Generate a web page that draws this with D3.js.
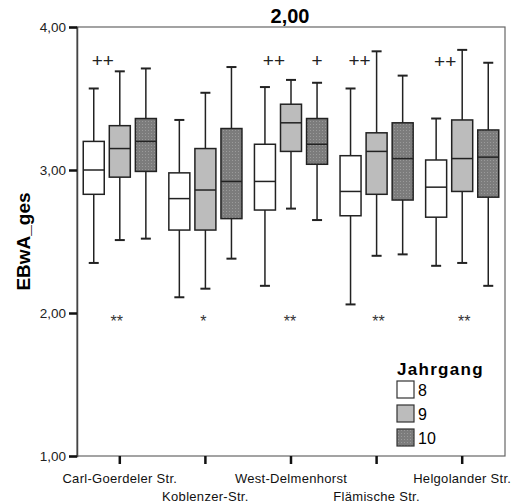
<!DOCTYPE html>
<html>
<head>
<meta charset="utf-8">
<script src="https://cdn.jsdelivr.net/npm/d3@7"></script>
<style>
  body { margin: 0; background: #fff; }
  svg text { font-family: Arial, "Liberation Sans", sans-serif; }
</style>
</head>
<body>
<div id="chart"></div>
<script>
// Schulen (x-Kategorien) und Jahrgänge
var schools = ["Carl-Goerdeler Str.", "Koblenzer-Str.", "West-Delmenhorst", "Flämische Str.", "Helgolander Str."];
var grades = ["8", "9", "10"];
var yTicks = [1, 2, 3, 4];
var title = "2,00";

// je Schule: [min, q1, median, q3, max]
var stats8 = [
  [2.35, 2.83, 3.00, 3.20, 3.57],
  [2.11, 2.58, 2.80, 2.98, 3.35],
  [2.19, 2.72, 2.92, 3.18, 3.58],
  [2.06, 2.68, 2.85, 3.10, 3.57],
  [2.33, 2.67, 2.88, 3.07, 3.36]
];
var stats9 = [
  [2.51, 2.95, 3.15, 3.31, 3.69],
  [2.17, 2.58, 2.86, 3.15, 3.54],
  [2.73, 3.13, 3.33, 3.46, 3.63],
  [2.40, 2.83, 3.13, 3.26, 3.83],
  [2.35, 2.85, 3.08, 3.35, 3.84]
];
var stats10 = [
  [2.52, 2.99, 3.20, 3.36, 3.71],
  [2.38, 2.66, 2.92, 3.29, 3.72],
  [2.65, 3.04, 3.18, 3.36, 3.61],
  [2.41, 2.79, 3.08, 3.33, 3.66],
  [2.19, 2.81, 3.09, 3.28, 3.75]
];

// Signifikanz-Markierungen
var plusMarks = [
  {school: 0, grade: "8", text: "++", y: 3.72},
  {school: 2, grade: "8", text: "++", y: 3.72},
  {school: 2, grade: "10", text: "+", y: 3.72},
  {school: 3, grade: "8", text: "++", y: 3.72},
  {school: 4, grade: "8", text: "++", y: 3.71}
];
var starMarks = ["**", "*", "**", "**", "**"];

var W = 511, H = 503,
    margin = {top: 27, right: 6, bottom: 47, left: 77};

var svg = d3.select("#chart").append("svg")
    .attr("width", W).attr("height", H);

var defs = svg.append("defs");
var pat = defs.append("pattern")
    .attr("id", "dots").attr("width", 3).attr("height", 3)
    .attr("patternUnits", "userSpaceOnUse");
pat.append("rect").attr("width", 3).attr("height", 3).attr("fill", "#7c7c7c");
pat.append("rect").attr("x", 1).attr("y", 1).attr("width", 1).attr("height", 1).attr("fill", "#9a9a9a");

var fills = {"8": "#ffffff", "9": "#bcbcbc", "10": "url(#dots)"};

var x = d3.scaleBand().domain(schools)
    .range([margin.left, W - margin.right]);
var xg = d3.scaleBand().domain(grades)
    .range([-37, 37]).paddingInner(0.16);
var y = d3.scaleLinear().domain([1, 4])
    .range([H - margin.bottom, margin.top]);

// Rahmen
svg.append("rect")
    .attr("x", margin.left).attr("y", margin.top)
    .attr("width", W - margin.right - margin.left)
    .attr("height", H - margin.bottom - margin.top)
    .attr("fill", "none").attr("stroke", "#666").attr("stroke-width", 1.2);

// y-Achse
var yAxis = svg.append("g")
    .attr("transform", "translate(" + margin.left + ",0)")
    .call(d3.axisLeft(y).tickValues(yTicks).tickSize(8).tickPadding(3)
      .tickFormat(function (d) { return d3.format(".2f")(d).replace(".", ","); }));
yAxis.select(".domain").attr("stroke", "#444").attr("stroke-width", 1.5);
yAxis.selectAll(".tick line").attr("stroke", "#111").attr("stroke-width", 2.5);
yAxis.selectAll(".tick text").attr("font-size", 13.5).attr("fill", "#222");

// x-Achse
var xAxis = svg.append("g")
    .attr("transform", "translate(0," + (H - margin.bottom) + ")")
    .call(d3.axisBottom(x).tickSize(8).tickPadding(6));
xAxis.select(".domain").remove();
xAxis.selectAll(".tick line").attr("stroke", "#111").attr("stroke-width", 2.5);
xAxis.selectAll(".tick text")
    .attr("font-size", 13).attr("fill", "#111").attr("letter-spacing", 0.3)
    .attr("y", function (d, i) { return i % 2 ? 45 : 27; })
    .attr("dy", 0);

// Boxplots
var series = [stats8, stats9, stats10];
var boxW = 21;
var starShift = [-3, -2, -1, 2, 2];
schools.forEach(function (s, si) {
  var cx0 = x(s) + x.bandwidth() / 2;
  grades.forEach(function (g, gi) {
    var v = series[gi][si];
    var cx = cx0 + xg(g) + xg.bandwidth() / 2;
    var grp = svg.append("g").attr("stroke", "#222").attr("stroke-width", 1.5);
    grp.append("line").attr("x1", cx).attr("x2", cx).attr("y1", y(v[0])).attr("y2", y(v[4]));
    [v[0], v[4]].forEach(function (w) {
      grp.append("line").attr("x1", cx - 5).attr("x2", cx + 5).attr("y1", y(w)).attr("y2", y(w))
          .attr("stroke-width", 2);
    });
    grp.append("rect").attr("x", cx - boxW / 2).attr("width", boxW)
        .attr("y", y(v[3])).attr("height", y(v[1]) - y(v[3]))
        .attr("fill", fills[g]);
    grp.append("line").attr("x1", cx - boxW / 2).attr("x2", cx + boxW / 2)
        .attr("y1", y(v[2])).attr("y2", y(v[2]));
  });
  // Sterne
  svg.append("text")
      .attr("x", cx0 + starShift[si]).attr("y", y(1.9))
      .attr("text-anchor", "middle").attr("font-size", 16).attr("fill", "#333")
      .text(starMarks[si]);
});

plusMarks.forEach(function (m) {
  var cx = x(schools[m.school]) + x.bandwidth() / 2 + xg(m.grade) + xg.bandwidth() / 2 +
      (m.text.length > 1 ? 9 : 0);
  svg.append("text")
      .attr("x", cx).attr("y", y(m.y))
      .attr("text-anchor", "middle").attr("font-size", 19).attr("fill", "#222")
      .text(m.text);
});

// Titel
svg.append("text")
    .attr("x", 290).attr("y", 23)
    .attr("text-anchor", "middle").attr("font-size", 20).attr("font-weight", "bold")
    .text(title);

// y-Beschriftung
svg.append("text")
    .attr("transform", "translate(30," + ((margin.top + H - margin.bottom) / 2) + ") rotate(-90)")
    .attr("text-anchor", "middle").attr("font-size", 19).attr("font-weight", "bold")
    .text("EBwA_ges");

// Legende
var leg = svg.append("g").attr("transform", "translate(397,375)");
leg.append("text").attr("x", 0).attr("y", 0)
    .attr("font-size", 17).attr("font-weight", "bold").attr("letter-spacing", 1.3).text("Jahrgang");
grades.forEach(function (g, i) {
  var row = leg.append("g").attr("transform", "translate(0," + (6 + i * 24) + ")");
  row.append("rect").attr("width", 17).attr("height", 17)
      .attr("fill", fills[g]).attr("stroke", "#333").attr("stroke-width", 1.2);
  row.append("text").attr("x", 21).attr("y", 15).attr("font-size", 16).text(g);
});
</script>
</body>
</html>
